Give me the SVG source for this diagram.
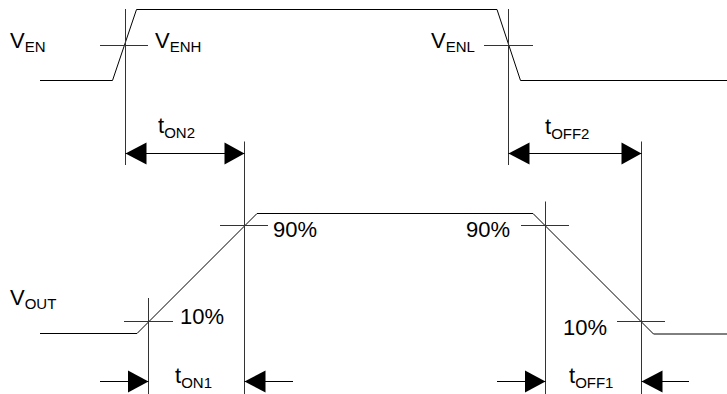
<svg xmlns="http://www.w3.org/2000/svg" width="727" height="394" viewBox="0 0 727 394">
<style>
.w{fill:none;stroke:#000;stroke-width:1}
.g{fill:none;stroke:#333;stroke-width:1}
.a{fill:#000;stroke:none}
text{font-family:"Liberation Sans",Arial,sans-serif;font-size:22px;fill:#000}
.s{font-size:15px}
</style>
<rect width="727" height="394" fill="#fff"/>
<g id="ven-signal">
<polyline class="w" points="40,80.5 112.5,80.5 136.5,9.5 497,9.5 520.5,80.5 727,80.5"/>
<text x="10" y="48">V<tspan class="s" dy="4">EN</tspan></text>
</g>
<g id="venh">
<line class="g" x1="100" y1="45.5" x2="148" y2="45.5"/>
<text x="155" y="48">V<tspan class="s" dy="4">ENH</tspan></text>
</g>
<g id="venl">
<line class="g" x1="484" y1="45.5" x2="533" y2="45.5"/>
<text x="431" y="48">V<tspan class="s" dy="4">ENL</tspan></text>
</g>
<g id="vout-signal">
<polyline class="w" points="40,333.5 137,333.5 257,213.5 533,213.5 653.5,334 727,334"/>
<text x="10" y="305">V<tspan class="s" dy="4">OUT</tspan></text>
</g>
<g id="p90-on">
<line class="g" x1="220" y1="225.5" x2="268" y2="225.5"/>
<text x="273" y="237">90%</text>
</g>
<g id="p90-off">
<line class="g" x1="521" y1="225.5" x2="569" y2="225.5"/>
<text x="466" y="237">90%</text>
</g>
<g id="p10-on">
<line class="g" x1="124" y1="321.5" x2="173" y2="321.5"/>
<text x="180" y="324">10%</text>
</g>
<g id="p10-off">
<line class="g" x1="617" y1="321.5" x2="665" y2="321.5"/>
<text x="563" y="334.5">10%</text>
</g>
<g id="connectors">
<line class="g" x1="125.5" y1="9" x2="125.5" y2="165"/>
<line class="g" x1="508.5" y1="9" x2="508.5" y2="165"/>
<line class="g" x1="244.5" y1="141.5" x2="244.5" y2="394"/>
<line class="g" x1="641.5" y1="141.5" x2="641.5" y2="394"/>
<line class="g" x1="148.5" y1="298" x2="148.5" y2="394"/>
<line class="g" x1="545.5" y1="201.5" x2="545.5" y2="394"/>
<line class="w" x1="125.5" y1="153.5" x2="244.5" y2="153.5"/>
<polygon class="a" points="125.5,153.5 146.5,142.5 146.5,164.5"/>
<polygon class="a" points="244.5,153.5 224.5,142.5 224.5,164.5"/>
<line class="w" x1="508.5" y1="153.5" x2="641.5" y2="153.5"/>
<polygon class="a" points="508.5,153.5 529.5,142.5 529.5,164.5"/>
<polygon class="a" points="641.5,153.5 621.5,142.5 621.5,164.5"/>
<line class="w" x1="100" y1="381.5" x2="148.5" y2="381.5"/>
<polygon class="a" points="148.5,381.5 128,370.5 128,392.5"/>
<line class="w" x1="244.5" y1="381.5" x2="293" y2="381.5"/>
<polygon class="a" points="244.5,381.5 265.5,370.5 265.5,392.5"/>
<line class="w" x1="497" y1="381.5" x2="545.5" y2="381.5"/>
<polygon class="a" points="545.5,381.5 525,370.5 525,392.5"/>
<line class="w" x1="641.5" y1="381.5" x2="689" y2="381.5"/>
<polygon class="a" points="641.5,381.5 662.5,370.5 662.5,392.5"/>
</g>
<g id="labels">
<text x="158" y="133">t<tspan class="s" dy="5">ON2</tspan></text>
<text x="545" y="134">t<tspan class="s" dy="5">OFF2</tspan></text>
<text x="175" y="383">t<tspan class="s" dy="5">ON1</tspan></text>
<text x="569" y="383">t<tspan class="s" dy="5">OFF1</tspan></text>
</g>
</svg>
